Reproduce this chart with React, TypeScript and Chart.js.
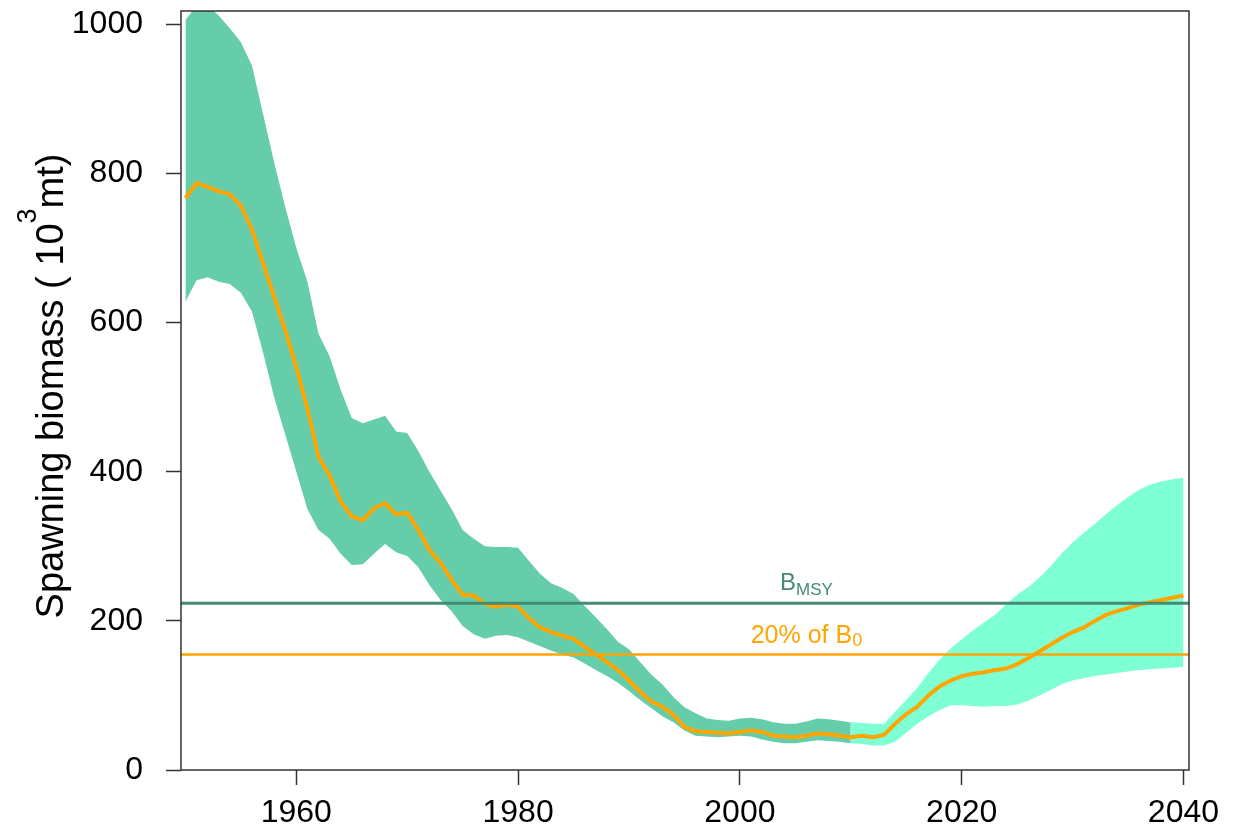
import { useEffect, useRef } from 'react';
import { Chart, registerables } from 'chart.js';

Chart.register(...registerables);

// ---- data (10^3 mt) ----
const years = [
  1950, 1951, 1952, 1953, 1954, 1955, 1956, 1957, 1958, 1959,
  1960, 1961, 1962, 1963, 1964, 1965, 1966, 1967, 1968, 1969,
  1970, 1971, 1972, 1973, 1974, 1975, 1976, 1977, 1978, 1979,
  1980, 1981, 1982, 1983, 1984, 1985, 1986, 1987, 1988, 1989,
  1990, 1991, 1992, 1993, 1994, 1995, 1996, 1997, 1998, 1999,
  2000, 2001, 2002, 2003, 2004, 2005, 2006, 2007, 2008, 2009,
  2010, 2011, 2012, 2013, 2014, 2015, 2016, 2017, 2018, 2019,
  2020, 2021, 2022, 2023, 2024, 2025, 2026, 2027, 2028, 2029,
  2030, 2031, 2032, 2033, 2034, 2035, 2036, 2037, 2038, 2039,
  2040,
];

const medianSSB = [
  767, 787, 782, 776, 772, 757, 725, 680, 635, 590,
  540, 485, 420, 395, 360, 340, 335, 351, 358, 343,
  345, 322, 295, 278, 255, 235, 234, 223, 219, 222,
  219, 203, 191, 185, 180, 176, 165, 155, 145, 134,
  120, 105, 92, 85, 74, 58, 52, 51, 50, 49,
  51, 53, 51, 46, 45, 44, 46, 49, 48, 46,
  44, 46, 44, 47, 62, 75, 85, 100, 112, 120,
  126, 129, 131, 134, 136, 142, 150, 159, 168, 177,
  185, 191, 200, 208, 213, 217, 222, 225, 228, 231,
  234,
];

const lowerSSB = [
  628, 657, 661, 655, 652, 640, 615, 560, 500, 450,
  400, 350, 322, 310, 290, 275, 276, 290, 303, 292,
  287, 272, 248, 228, 213, 193, 182, 176, 180, 181,
  178, 172, 166, 160, 155, 151, 143, 134, 126, 117,
  106, 94, 83, 72, 64, 53, 46, 45, 44, 45,
  46, 45, 41, 38, 36, 36, 38, 40, 39, 38,
  36, 35, 33, 33, 38, 50, 62, 72, 80, 87,
  87, 86, 85, 86, 86, 88, 93, 100, 107, 115,
  120, 123, 126, 128, 130, 132, 134, 135, 136, 137,
  138,
];

const upperSSB = [
  1006, 1025, 1025, 1012, 995, 976, 945, 880, 815, 755,
  700, 655, 585, 555, 510, 472, 465, 470, 475, 454,
  452, 428, 400, 375, 350, 322, 310, 300, 299, 299,
  298, 280, 263, 250, 244, 236, 220, 205, 189, 172,
  162, 145, 128, 115, 98, 84, 76, 69, 67, 66,
  69, 70, 68, 64, 62, 62, 65, 69, 68, 66,
  64, 63, 62, 62, 78, 94, 110, 130, 148, 163,
  175, 187, 198, 208, 222, 235, 245, 258, 273, 290,
  305, 318, 330, 343, 355, 366, 376, 383, 387, 390,
  392,
];

const projectionStart = 2010;
const bmsy = 223.5;
const b0pct20 = 155;
const refLabelYear = 2006;

const xTicks = [1960, 1980, 2000, 2020, 2040];
const yTicks = [0, 200, 400, 600, 800, 1000];
const xMin = 1949.6;
const xMax = 2040.5;
const yMin = 0;
const yMax = 1018;

const FONT = "'Liberation Sans', Arial, sans-serif";

function pts(vals: number[], from: number, to: number) {
  const out: { x: number; y: number }[] = [];
  years.forEach((yr, i) => {
    if (yr >= from && yr <= to) out.push({ x: yr, y: vals[i] });
  });
  return out;
}

function drawSubText(
  ctx: CanvasRenderingContext2D,
  main: string,
  sub: string,
  cx: number,
  baseline: number,
  mainSize: number,
  subSize: number,
  subDrop: number,
  color: string
) {
  ctx.font = `${mainSize}px ${FONT}`;
  const mw = ctx.measureText(main).width;
  ctx.font = `${subSize}px ${FONT}`;
  const sw = ctx.measureText(sub).width;
  const x0 = cx - (mw + sw) / 2;
  ctx.fillStyle = color;
  ctx.textAlign = 'left';
  ctx.textBaseline = 'alphabetic';
  ctx.font = `${mainSize}px ${FONT}`;
  ctx.fillText(main, x0, baseline);
  ctx.font = `${subSize}px ${FONT}`;
  ctx.fillText(sub, x0 + mw, baseline + subDrop);
}

const decorPlugin = {
  id: 'decor',
  afterDraw(chart: any) {
    const { ctx, chartArea: a, scales } = chart;
    const x = scales.x;
    const y = scales.y;
    ctx.save();
    // box
    ctx.strokeStyle = '#333333';
    ctx.lineWidth = 1.5;
    ctx.strokeRect(a.left, a.top, a.right - a.left, a.bottom - a.top);

    // reference labels
    const lx = x.getPixelForValue(refLabelYear);
    drawSubText(ctx, 'B', 'MSY', lx, y.getPixelForValue(bmsy) - 13, 24, 17, 5, '#458B74');
    drawSubText(ctx, '20% of B', '0', lx, y.getPixelForValue(b0pct20) - 11, 25, 18, 3, '#FFA500');

    // y-axis title with superscript
    const p1 = 'Spawning biomass ( 10';
    const p2 = '3';
    const p3 = 'mt)';
    ctx.fillStyle = '#000000';
    ctx.textBaseline = 'alphabetic';
    ctx.textAlign = 'left';
    ctx.font = `38px ${FONT}`;
    const w1 = ctx.measureText(p1).width;
    const w3 = ctx.measureText(p3).width;
    ctx.font = `27px ${FONT}`;
    const w2 = ctx.measureText(p2).width;
    const total = w1 + w2 + w3;
    ctx.translate(63, 386);
    ctx.rotate(-Math.PI / 2);
    let sx = -total / 2;
    ctx.font = `38px ${FONT}`;
    ctx.fillText(p1, sx, 0);
    sx += w1;
    ctx.font = `27px ${FONT}`;
    ctx.fillText(p2, sx, -27);
    sx += w2;
    ctx.font = `38px ${FONT}`;
    ctx.fillText(p3, sx, 0);
    ctx.restore();
  },
};

export default function App() {
  const ref = useRef<HTMLCanvasElement | null>(null);

  useEffect(() => {
    if (!ref.current) return;
    const base = { pointRadius: 0, tension: 0, borderWidth: 0 };
    const chart = new Chart(ref.current, {
      type: 'line',
      data: {
        datasets: [
          {
            ...base,
            label: 'upper-hist',
            data: pts(upperSSB, 1950, projectionStart),
            fill: '+1',
            backgroundColor: '#66CDAA',
            borderColor: 'rgba(0,0,0,0)',
            order: 10,
          },
          {
            ...base,
            label: 'lower-hist',
            data: pts(lowerSSB, 1950, projectionStart),
            fill: false,
            borderColor: 'rgba(0,0,0,0)',
            order: 10,
          },
          {
            ...base,
            label: 'upper-proj',
            data: pts(upperSSB, projectionStart, 2040),
            fill: '+1',
            backgroundColor: '#7FFFD4',
            borderColor: 'rgba(0,0,0,0)',
            order: 9,
          },
          {
            ...base,
            label: 'lower-proj',
            data: pts(lowerSSB, projectionStart, 2040),
            fill: false,
            borderColor: 'rgba(0,0,0,0)',
            order: 9,
          },
          {
            label: 'median',
            data: pts(medianSSB, 1950, 2040),
            borderColor: '#FFA500',
            borderWidth: 4,
            pointRadius: 0,
            tension: 0,
            fill: false,
            order: 5,
          },
          {
            label: 'Bmsy',
            data: [
              { x: xMin, y: bmsy },
              { x: xMax, y: bmsy },
            ],
            borderColor: '#458B74',
            borderWidth: 3,
            pointRadius: 0,
            fill: false,
            order: 1,
          },
          {
            label: '20% B0',
            data: [
              { x: xMin, y: b0pct20 },
              { x: xMax, y: b0pct20 },
            ],
            borderColor: '#FFA500',
            borderWidth: 2.5,
            pointRadius: 0,
            fill: false,
            order: 1,
          },
        ],
      },
      options: {
        responsive: false,
        animation: false,
        layout: { padding: { top: 11, right: 52, left: 0, bottom: 0 } },
        plugins: {
          legend: { display: false },
          tooltip: { enabled: false },
          title: { display: false },
        },
        scales: {
          x: {
            type: 'linear',
            min: xMin,
            max: xMax,
            border: { display: false },
            grid: {
              drawOnChartArea: false,
              drawTicks: true,
              tickLength: 15,
              tickColor: '#333333',
              tickWidth: 1.5,
              color: '#333333',
            },
            afterBuildTicks: (scale: any) => {
              scale.ticks = xTicks.map((v) => ({ value: v }));
            },
            afterFit: (scale: any) => {
              scale.height = 59;
              scale.paddingLeft = 0;
              scale.paddingRight = 0;
            },
            ticks: {
              autoSkip: false,
              maxRotation: 0,
              padding: 9,
              color: '#000000',
              font: { family: FONT, size: 32 },
              callback: (v: any) => String(v),
            },
          },
          y: {
            type: 'linear',
            min: yMin,
            max: yMax,
            border: { display: false },
            grid: {
              drawOnChartArea: false,
              drawTicks: true,
              tickLength: 15,
              tickColor: '#333333',
              tickWidth: 1.5,
              color: '#333333',
            },
            afterBuildTicks: (scale: any) => {
              scale.ticks = yTicks.map((v) => ({ value: v }));
            },
            afterFit: (scale: any) => {
              scale.width = 181;
              scale.paddingTop = 0;
              scale.paddingBottom = 0;
            },
            ticks: {
              autoSkip: false,
              padding: 23,
              color: '#000000',
              font: { family: FONT, size: 32 },
              callback: (v: any) => String(v),
            },
          },
        },
      },
      plugins: [decorPlugin],
    });
    return () => chart.destroy();
  }, []);

  return (
    <div style={{ position: 'fixed', left: 0, top: 0, width: 1241, height: 829, background: '#ffffff' }}>
      <canvas ref={ref} width={1241} height={829} />
    </div>
  );
}
